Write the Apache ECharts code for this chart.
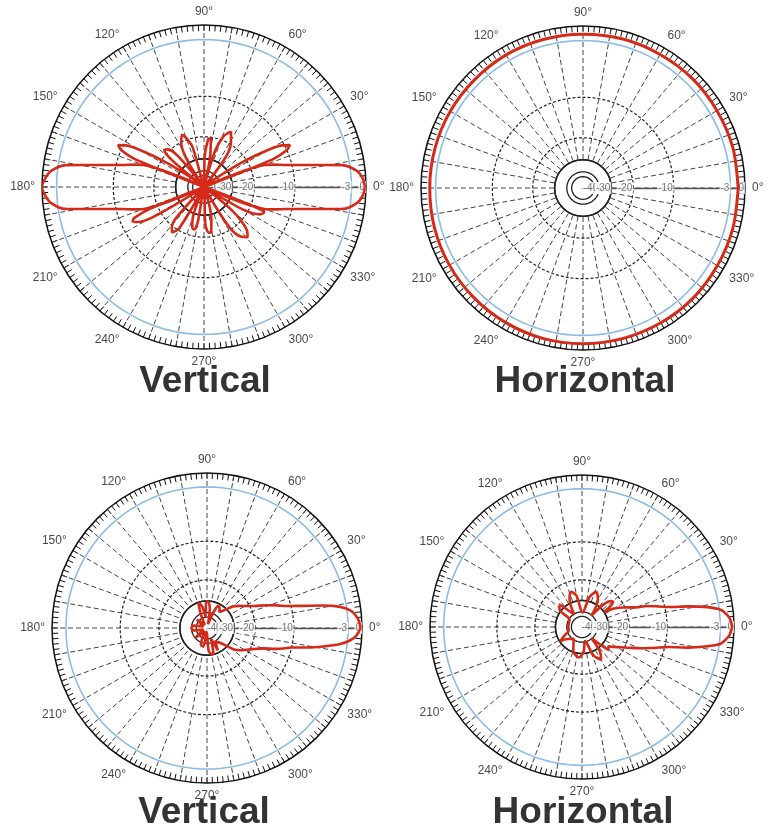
<!DOCTYPE html>
<html>
<head>
<meta charset="utf-8">
<script src="https://cdn.jsdelivr.net/npm/echarts/dist/echarts.min.js"></script>
<style>
  html, body { margin: 0; padding: 0; background: #ffffff; }
  #chart { width: 771px; height: 832px; }
</style>
</head>
<body>
<div id="chart"></div>
<script>
// Radial scale of the polar plots: dB level -> fraction of the plot radius
const scaleDb   = [-60, -40, -30, -20, -10, -3, 0];
const scaleFrac = [0, 0.10, 0.175, 0.31, 0.56, 0.91, 1.0];

// Reference rings and the labels along the 0° spoke
const ringLevels  = [-46, -40, -30, -20, -10, -3];
const labelLevels = [-40, -30, -20, -10, -3, 0];
const labelTexts  = ['-40', '-30', '-20', '-10', '-3', '0'];

// Angle axis: degree labels every 30°
const angleLabelStep = 30;

// Pattern 1: omni antenna, vertical plane (angle in degrees, gain in dB)
const omniVertAngles = [
  0, 3, 6, 9, 12, 15, 18, 20, 21,
  22, 24, 26, 28, 30, 33, 36, 38,
  48, 54, 59, 64, 69, 73, 76,
  78, 82, 85, 89, 92,
  100, 106, 110, 113, 117, 122, 125,
  126, 130, 134, 137, 140, 142,
  144, 147, 150, 152, 154, 156, 158, 159,
  160, 162, 165, 168, 171, 174, 177, 180,
  183, 186, 189, 192, 195, 198, 200, 201,
  202, 204, 206, 208, 211, 214,
  222, 228, 232, 235, 239, 243,
  246, 250, 254, 257, 260, 263,
  268, 272, 276, 279, 283, 287,
  296, 302, 307, 311, 315, 320, 324,
  326, 330, 334, 337, 338, 339,
  340, 342, 345, 348, 351, 354, 357];
const omniVertDb = [
  -0.2, -0.6, -1.7, -3.9, -8.1, -11.4, -14.5, -16.5, -60,
  -14, -10, -9.4, -10.5, -14, -22, -40, -60,
  -60, -26, -19.5, -17.2, -19, -26, -60,
  -30, -20.5, -21, -30, -60,
  -60, -24, -19.5, -18.4, -20, -28, -60,
  -60, -25, -19.5, -19, -24, -60,
  -40, -22, -14, -10.5, -9.4, -10, -14, -60,
  -16.5, -14.5, -11.4, -8.1, -3.9, -1.7, -0.6, 0,
  -0.6, -1.7, -3.9, -8.1, -11.4, -14.5, -16.5, -60,
  -18, -13.5, -12.8, -14, -20, -60,
  -60, -24, -19.5, -18.8, -21, -60,
  -60, -28, -23.5, -23, -27, -60,
  -60, -26, -22, -22, -28, -60,
  -60, -22, -17, -16, -17.5, -26, -60,
  -60, -22, -17, -16.3, -16.5, -60,
  -16.5, -14.5, -11.4, -8.1, -3.9, -1.7, -0.6];

// Pattern 2: omni antenna, horizontal plane
const omniHorzAngles = [0, 15, 30, 45, 60, 75, 90, 105, 120, 135, 150, 165, 180, 195, 210, 225, 240, 255, 270, 285, 300, 315, 330, 345];
const omniHorzDb = [-1.4, -1.4, -1.5, -1.5, -1.6, -1.6, -1.7, -1.7, -1.7, -1.8, -1.8, -1.8, -1.8, -1.7, -1.6, -1.5, -1.4, -1.3, -1.3, -1.3, -1.3, -1.3, -1.4, -1.4];

// Pattern 3: directional antenna, vertical plane
const dirVertAngles = [0, 3, 5, 7, 9, 11, 13, 15, 18, 21, 25, 30, 35, 40, 45, 52, 58, 63, 68, 75, 82, 88, 92, 97, 103, 109, 114, 125, 140, 155, 170, 180, 190, 205, 220, 235, 250, 259, 265, 274, 280, 284, 290, 296, 302, 312, 318, 322, 326, 330, 335, 340, 343, 345, 347, 349, 351, 353, 355, 357];
const dirVertDb = [-0.3, -0.7, -1.3, -2.3, -3.8, -6, -8.5, -10.5, -13.5, -16, -19, -22, -24.5, -27, -31, -36, -33, -32, -40, -55, -36, -30.5, -30.5, -45, -34, -30.5, -40, -55, -43, -55, -42, -40, -42, -55, -40, -55, -38, -37, -55, -34, -30.5, -30.5, -45, -32, -40, -36, -30, -26, -24, -22, -19.5, -17, -14, -12, -10, -8, -6, -4, -2.5, -1.2];

// Pattern 4: directional antenna, horizontal plane
const dirHorzAngles = [0, 3, 5, 7, 9, 11, 13, 15, 18, 20, 25, 30, 34, 39, 42, 50, 60, 68, 76, 88, 100, 107, 114, 122, 135, 142, 150, 165, 180, 195, 205, 213, 220, 235, 250, 264, 274, 282, 292, 300, 306, 310, 319, 324, 328, 332, 336, 340, 343, 345, 347, 349, 351, 353, 355, 357];
const dirHorzDb = [-0.4, -0.8, -1.5, -2.6, -4.5, -7, -9.5, -11.5, -14.5, -17.3, -20.4, -25, -30, -23.5, -24, -41, -27.5, -24.5, -28, -41, -27.5, -25, -28, -41, -27.5, -29, -41, -42, -42, -42, -37, -30.5, -37, -41, -31, -28, -32, -41, -28, -24.5, -28, -41, -26, -27, -24.5, -22, -19, -16, -13.5, -11.5, -9.5, -7, -4.8, -2.8, -1.7, -0.9];

// Panel titles
const titles = ['Vertical', 'Horizontal', 'Vertical', 'Horizontal'];

// Layout of the four polar plots
const panels = [
  { center: [204, 187], radius: 162, title: [205, 382], angles: omniVertAngles, db: omniVertDb },
  { center: [583, 188], radius: 162, title: [585, 382], angles: omniHorzAngles, db: omniHorzDb },
  { center: [207, 628], radius: 155, title: [204, 813], angles: dirVertAngles, db: dirVertDb },
  { center: [582, 627], radius: 152, title: [583, 813], angles: dirHorzAngles, db: dirHorzDb }
];

const RED = '#d52a18';
const BLUE = '#8cbbe8';
const FONT = "'Liberation Sans', Arial, sans-serif";

function dbToFrac(db) {
  if (db <= scaleDb[0]) return 0;
  for (let i = 1; i < scaleDb.length; i++) {
    if (db <= scaleDb[i]) {
      const t = (db - scaleDb[i - 1]) / (scaleDb[i] - scaleDb[i - 1]);
      return scaleFrac[i - 1] + t * (scaleFrac[i] - scaleFrac[i - 1]);
    }
  }
  return 1;
}

const polar = [], angleAxis = [], radiusAxis = [], series = [], graphic = [];

panels.forEach((p, k) => {
  const gridIdx = k * 2;      // spokes, outer ring, ticks, degree labels
  const dataIdx = k * 2 + 1;  // pattern, rings, dB labels

  polar.push({ center: p.center, radius: [p.radius * dbToFrac(-30), p.radius] });
  polar.push({ center: p.center, radius: [0, p.radius] });

  angleAxis.push({
    polarIndex: gridIdx, type: 'value', min: 0, max: 360, interval: 10,
    startAngle: 0, clockwise: false, z: 2,
    axisLine: { show: true, lineStyle: { color: '#111', width: 1.5 } },
    axisTick: { show: true, inside: true, length: 6, lineStyle: { color: '#111', width: 1 } },
    minorTick: { show: true, splitNumber: 5, length: 6, lineStyle: { color: '#111', width: 1 } },
    axisLabel: {
      show: true, margin: 7, color: '#4a4a4a', fontSize: 12, fontFamily: FONT,
      formatter: v => (v % angleLabelStep === 0 && v < 360) ? v + '°' : ''
    },
    splitLine: { show: true, lineStyle: { color: '#444', width: 1, type: [5, 3] } }
  });
  radiusAxis.push({ polarIndex: gridIdx, type: 'value', min: 0, max: 1, show: false });

  angleAxis.push({
    polarIndex: dataIdx, type: 'value', min: 0, max: 360, startAngle: 0, clockwise: false, show: false
  });
  radiusAxis.push({
    polarIndex: dataIdx, type: 'value', min: 0, max: 1, z: 3,
    axisLine: { show: true, lineStyle: { color: '#555', width: 1.3 } },
    axisTick: { show: false }, axisLabel: { show: false }, splitLine: { show: false }
  });

  // reference rings
  const ringAngles = [];
  for (let a = 0; a <= 360; a += 3) ringAngles.push(a);
  ringLevels.forEach(lv => {
    const dashed = lv === -10 || lv === -20;
    const isBlue = lv === -3;
    series.push({
      type: 'line', coordinateSystem: 'polar', polarIndex: dataIdx,
      data: ringAngles.map(a => [dbToFrac(lv), a]),
      showSymbol: false, silent: true, z: 2,
      lineStyle: {
        color: isBlue ? BLUE : '#222',
        width: isBlue ? 1.6 : (dashed ? 1.2 : 1.3),
        type: dashed ? [3, 2] : 'solid'
      }
    });
  });

  // dB labels along the 0° spoke
  series.push({
    type: 'scatter', coordinateSystem: 'polar', polarIndex: dataIdx,
    data: labelLevels.map((lv, i) => ({ value: [dbToFrac(lv), 0], name: labelTexts[i] })),
    symbolSize: 0, silent: true, z: 4,
    label: {
      show: true, position: 'left', distance: 0, formatter: '{b}',
      color: '#555', fontSize: 10, fontFamily: FONT,
      backgroundColor: '#fff', padding: [1, 1]
    }
  });

  // measured pattern
  const pts = p.angles.map((a, i) => [dbToFrac(p.db[i]), a]);
  pts.push([dbToFrac(p.db[0]), 360]);
  series.push({
    type: 'line', coordinateSystem: 'polar', polarIndex: dataIdx,
    data: pts, showSymbol: false, smooth: 0.3, silent: true, z: 6,
    lineStyle: { color: RED, width: k === 1 ? 3 : 2.6 }
  });

  graphic.push({
    type: 'text', x: p.title[0], y: p.title[1], z: 10,
    style: {
      text: titles[k], align: 'center', verticalAlign: 'middle',
      font: 'bold 37px ' + FONT, fill: '#333'
    }
  });
});

const chart = echarts.init(document.getElementById('chart'), null, { renderer: 'canvas' });
chart.setOption({
  animation: false,
  backgroundColor: '#fff',
  polar, angleAxis, radiusAxis, series, graphic
});
</script>
</body>
</html>
